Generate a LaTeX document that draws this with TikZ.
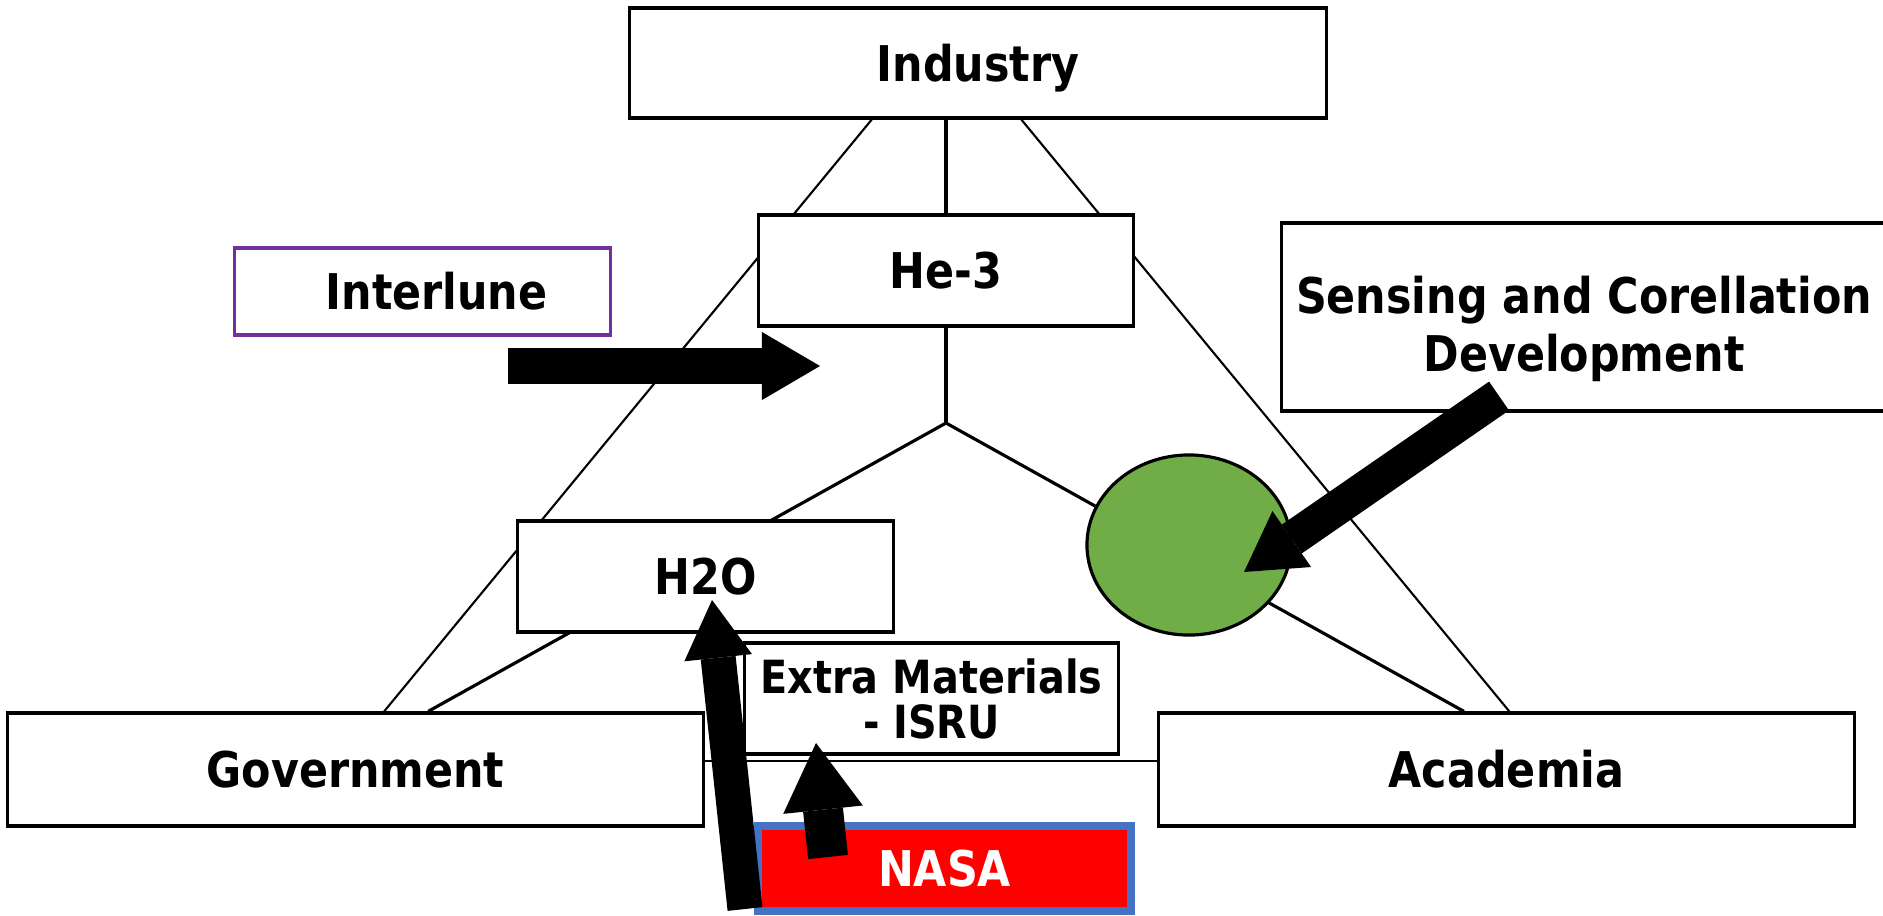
\documentclass[tikz,border=0pt]{standalone}
\usepackage{fontspec}
\setmainfont{DejaVu Sans}[FakeStretch=0.87]
\usetikzlibrary{arrows.meta,calc,shapes.geometric,backgrounds}

\definecolor{leafgreen}{HTML}{70AD47}
\definecolor{lunepurple}{HTML}{7030A0}
\definecolor{nasablue}{HTML}{4472C4}

\tikzset{
    box/.style={draw, fill=white, line width=0.9pt, inner sep=0pt, align=center,
        font=\bfseries\fontsize{14}{16.5}\selectfont},
    oneline/.style={text height=0.5cm, text depth=0.14cm},
    bigarrow/.style={line width=0.35cm, -{Triangle[length=0.58cm, width=0.68cm, line width=0pt]}},
}

\begin{document}
\begin{tikzpicture}[x=0.01cm, y=-0.01cm]
        \clip (0,0) rectangle (1883,915);
        \node[box, oneline, minimum width=6.96cm, minimum height=1.10cm] (industry) at (978,63) {Industry};
        \node[box, oneline, minimum width=3.74cm, minimum height=1.11cm] (he3) at (946,270.5) {He-3};
        \node[box, oneline, draw=lunepurple, minimum width=3.75cm, minimum height=0.87cm] (interlune) at (422.5,291.5) {\hspace*{0.28cm}Interlune};
        \node[box, minimum width=6.04cm, minimum height=1.88cm] (sensing) at (1584,317) {\rule{0pt}{0.62cm}Sensing and Corellation\\Development};
        \node[draw, ellipse, fill=leafgreen, line width=0.9pt, inner sep=0pt, minimum width=2.04cm, minimum height=1.80cm] (spot) at (1189,545) {};
        \node[box, oneline, minimum width=3.75cm, minimum height=1.11cm] (h2o) at (705.5,576.5) {H2O};
        \node[box, font=\bfseries\fontsize{13}{12.8}\selectfont, minimum width=3.73cm, minimum height=1.11cm] (extra) at (931.5,698.5) {Extra Materials\\- ISRU};
        \node[box, oneline, minimum width=6.95cm, minimum height=1.13cm] (gov) at (355.5,769.5) {Government};
        \node[box, oneline, minimum width=6.95cm, minimum height=1.13cm] (academia) at (1506.5,769.5) {Academia};
        \node[box, oneline, draw=nasablue, fill=red, text=white, line width=2.2pt, minimum width=3.73cm, minimum height=0.85cm] (nasa) at (944.5,868.5) {NASA};
        \coordinate (hub) at (946,423);

        % triangle behind the boxes
        \begin{pgfonlayer}{background}
        \draw[line width=0.6pt] ($(industry.south west)!0.348!(industry.south east)$) -- ($(gov.north west)!0.541!(gov.north east)$);
        \draw[line width=0.6pt] ($(industry.south west)!0.562!(industry.south east)$) -- ($(academia.north west)!0.504!(academia.north east)$);
        \draw[line width=0.9pt] (hub |- industry.south) -- (hub);
        \draw[line width=0.9pt] ($(gov.north west)!0.604!(gov.north east)$) -- (hub) -- ($(academia.north west)!0.439!(academia.north east)$);
        \draw[line width=0.6pt] ($(gov.east)+(0,-8.5)$) -- ($(academia.west)+(0,-8.5)$);
        \end{pgfonlayer}

        \coordinate (pushTail) at (508,366);
        \coordinate (pushTip) at (820,366);
        \coordinate (senseTail) at (1499,396);
        \coordinate (senseTip) at (1244,572);
        \coordinate (waterTail) at (745,909);
        \coordinate (waterTip) at (712,600);
        \coordinate (isruTail) at (828,857);
        \coordinate (isruTip) at (816,743);
        \draw[bigarrow] (pushTail) -- (pushTip);
        \draw[bigarrow] (senseTail) -- (senseTip);
        \draw[bigarrow] (waterTail) -- (waterTip);
        \draw[bigarrow, line width=0.40cm, -{Triangle[length=0.67cm, width=0.80cm, line width=0pt]}] (isruTail) -- (isruTip);
    \end{tikzpicture}
\end{document}
